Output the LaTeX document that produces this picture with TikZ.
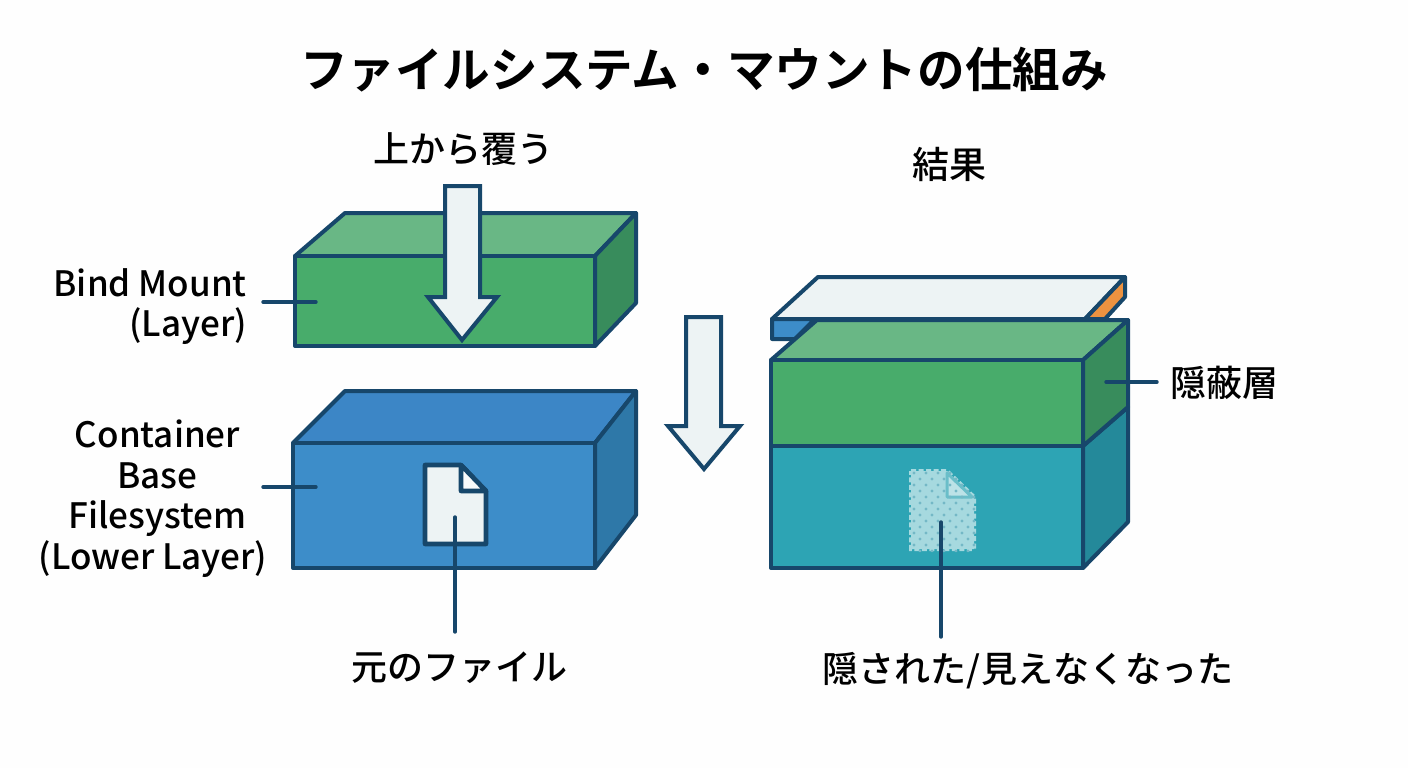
\documentclass[tikz,border=0pt]{standalone}
\usepackage{fontspec}
\setmainfont{Noto Sans CJK JP Medium}[BoldFont={Noto Sans CJK JP Bold}]
\definecolor{ink}{HTML}{17476B}
\definecolor{paper}{HTML}{EDF3F4}
\definecolor{gfront}{HTML}{48AC6B}
\definecolor{gtop}{HTML}{69B785}
\definecolor{gside}{HTML}{388C5C}
\definecolor{bfront}{HTML}{3D8DC9}
\definecolor{btop}{HTML}{3C86C6}
\definecolor{bside}{HTML}{2E78A8}
\definecolor{tfront}{HTML}{2DA4B4}
\definecolor{tside}{HTML}{24899A}
\definecolor{ghost}{HTML}{A6D9DF}
\definecolor{ghostdot}{HTML}{74B8C6}
\definecolor{orangeside}{HTML}{EC9240}
\definecolor{pagebg}{HTML}{FEFEFE}
\tikzset{
  x=1pt,y=-1pt,
  face/.style={draw=ink,line width=4pt,line join=round},
  bigarrow/.style={draw=ink,fill=paper,line width=4pt,line join=miter},
  leader/.style={draw=ink,line width=3.4pt,line cap=round},
  lab/.style={font=\fontsize{36}{40.5}\selectfont,text=black,inner sep=0pt,align=center},
  latinlab/.style={font=\fontsize{35}{40.5}\selectfont,text=black,inner sep=0pt,align=center},
  titletext/.style={font=\fontsize{47.6}{56}\selectfont\bfseries,text=black,inner sep=0pt},
}
\begin{document}
\begin{tikzpicture}
\useasboundingbox (0,0) rectangle (1408,768);
\fill[pagebg] (0,0) rectangle (1408,768);

\node[titletext] (title) at (704,70) {ファイルシステム・マウントの仕組み};

% Bind mount block
\path[face,fill=gtop] (295,256) -- (345,213) -- (636,213) -- (595,256) -- cycle;
\path[face,fill=gside] (595,256) -- (636,213) -- (636,303) -- (595,346) -- cycle;
\path[face,fill=gfront] (295,256) rectangle (595,346);

% Container block
\path[face,fill=btop] (293,443) -- (345,391) -- (636,391) -- (595,443) -- cycle;
\path[face,fill=bside] (595,443) -- (636,391) -- (636,515) -- (595,568) -- cycle;
\path[face,fill=bfront] (293,443) rectangle (595,568);

% original file
\path[draw=ink,fill=paper,line width=4.6pt,line join=round]
  (425,465) -- (461,465) -- (486,491) -- (486,544) -- (425,544) -- cycle;
\path[draw=ink,fill=white!60!paper,line width=4.6pt,line join=round]
  (461,465) -- (486,491) -- (461,491) -- cycle;

% Arrows
\path[bigarrow] (445,186) -- (480,186) -- (480,297) -- (497,297) -- (462,340) -- (428,297) -- (445,297) -- cycle;
\path[bigarrow] (686,317) -- (721,317) -- (721,426) -- (740,426) -- (704,469) -- (668,426) -- (686,426) -- cycle;

% Result: plate
\path[face,fill=paper] (772,319) -- (818,277) -- (1125,277) -- (1085,319) -- cycle;
\path[face,fill=orangeside] (1085,319) -- (1125,277) -- (1125,297) -- (1105,319) -- cycle;
\path[face,fill=bfront] (772,319) -- (815,319) -- (795,339) -- (772,339) -- cycle;

% Result: teal block
\path[face,fill=tside] (1083,446) -- (1128,407) -- (1128,522) -- (1083,568) -- cycle;
\path[face,fill=tfront] (771,446) rectangle (1083,568);
% Result: green block
\path[face,fill=gtop] (771,360) -- (817,320) -- (1128,320) -- (1083,360) -- cycle;
\path[face,fill=gside] (1083,360) -- (1128,320) -- (1128,407) -- (1083,446) -- cycle;
\path[face,fill=gfront] (771,360) rectangle (1083,446);

% Hidden file
\path[fill=ghost,draw=ghost,line width=4pt,dash pattern=on 5pt off 2.5pt]
  (911,471) -- (947,471) -- (974,497) -- (974,549) -- (911,549) -- cycle;
\path[fill=white!25!ghost,draw=tfront!50!ghost,line width=3pt,line join=round] (947,473) -- (972,497) -- (947,497) -- cycle;
\begin{scope}
\clip (908,468) -- (947,468) -- (977,497) -- (977,552) -- (908,552) -- cycle;
\foreach \r in {0,...,13}{
  \foreach \c in {0,...,5}{
    \fill[ghostdot] ({914+\c*12+mod(\r,2)*6},{473+\r*6}) circle (1.6pt);
  }
}
\end{scope}

% Labels
\node[lab] (cover) at (463,149) {上から覆う};
\node[lab,font=\fontsize{37}{40}\selectfont] (result) at (949,164) {結果};
\node[latinlab,anchor=north east] (bind) at (247,268) {Bind Mount\\[0pt]\hfill(Layer)};
\node[latinlab] (base) at (157.5,498.5) {Container\\Base\\Filesystem\\(Lower Layer)\hspace*{9pt}};
\node[lab] (orig) at (459,668) {元のファイル};
\node[lab] (hidden) at (1028,671) {隠された/見えなくなった};
\node[lab] (mask) at (1224,383) {隠蔽層};

% Leaders
\coordinate (bindin) at (316,302);
\coordinate (basein) at (316,487);
\coordinate (filein) at (455,517);
\coordinate (ghostin) at (941,522);
\coordinate (maskin) at (1106,382);
\coordinate (bindout) at (263,302);
\coordinate (baseout) at (263,487);
\coordinate (origout) at (455,632);
\coordinate (hiddenout) at (941,637);
\coordinate (maskout) at (1157,382);
\draw[leader] (bindout) -- (bindin);
\draw[leader] (baseout) -- (basein);
\draw[leader] (filein) -- (origout);
\draw[leader] (ghostin) -- (hiddenout);
\draw[leader] (maskin) -- (maskout);
\end{tikzpicture}
\end{document}
